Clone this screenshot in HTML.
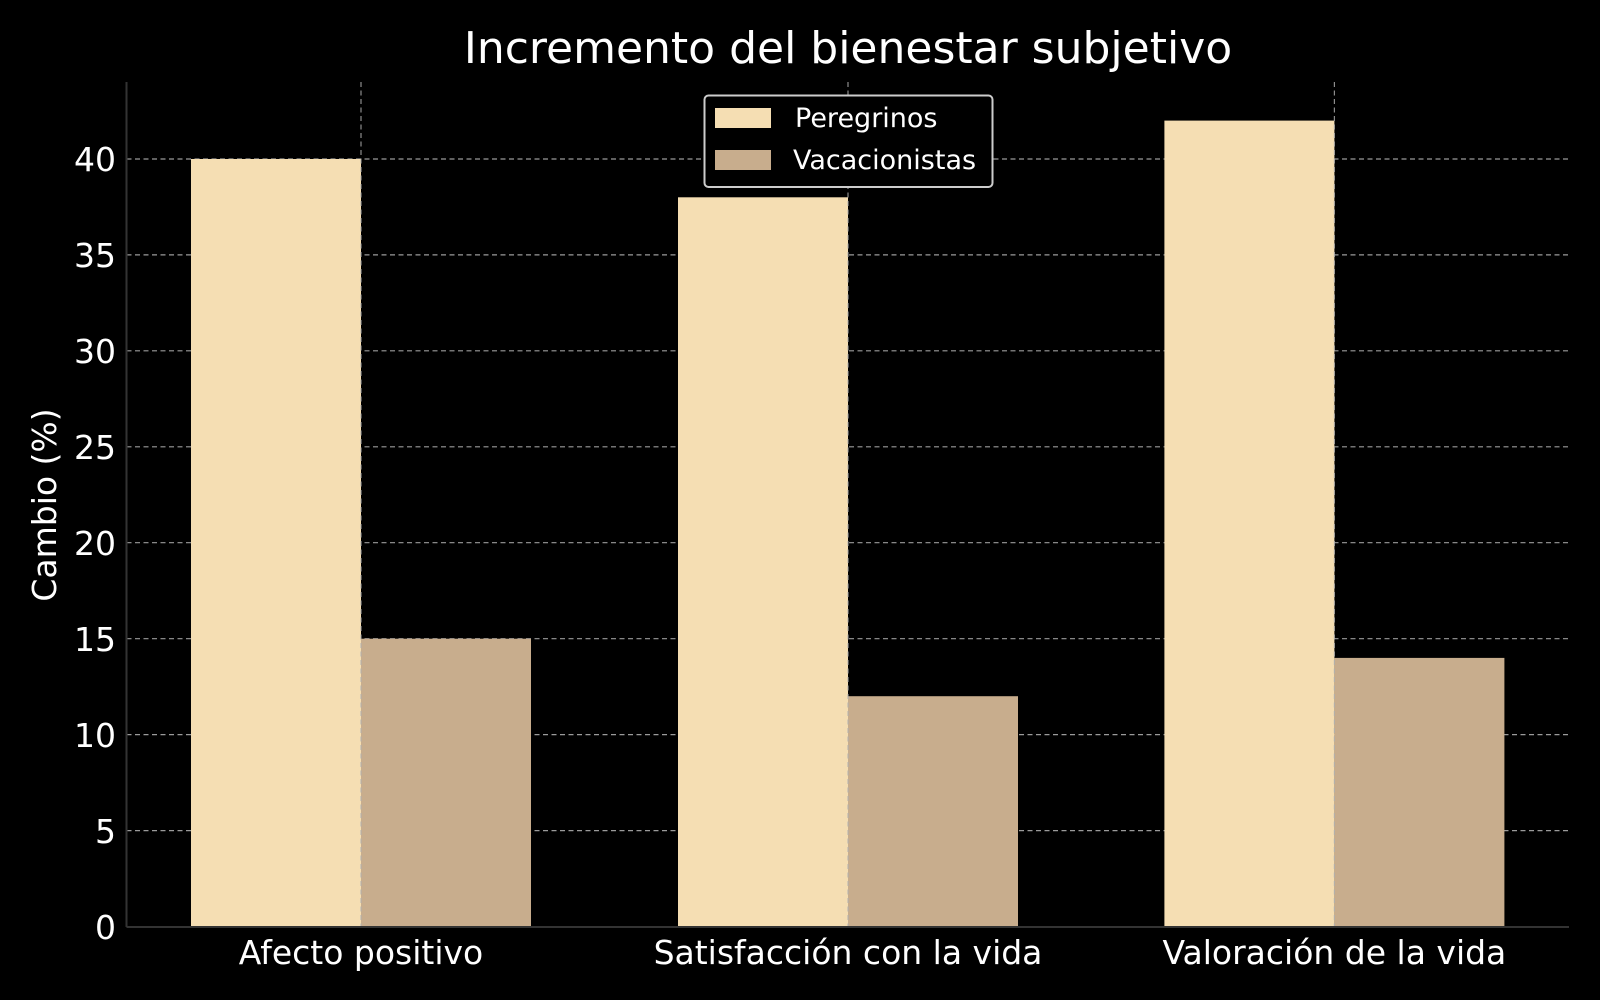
<!DOCTYPE html>
<html><head><meta charset="utf-8"><style>html,body{margin:0;padding:0;background:#000;}svg{display:block}</style></head>
<body>
<svg width="1600" height="1000" viewBox="0 0 1600 1000" xmlns="http://www.w3.org/2000/svg" font-family="'DejaVu Sans','Liberation Sans',sans-serif">
<rect width="1600" height="1000" fill="#000"/>
<g stroke="#9a9a9a" stroke-width="1.2" stroke-dasharray="5,3.5">
<line x1="126.5" x2="1569" y1="830.6" y2="830.6"/>
<line x1="126.5" x2="1569" y1="734.6" y2="734.6"/>
<line x1="126.5" x2="1569" y1="638.7" y2="638.7"/>
<line x1="126.5" x2="1569" y1="542.7" y2="542.7"/>
<line x1="126.5" x2="1569" y1="446.8" y2="446.8"/>
<line x1="126.5" x2="1569" y1="350.8" y2="350.8"/>
<line x1="126.5" x2="1569" y1="254.9" y2="254.9"/>
<line x1="126.5" x2="1569" y1="159" y2="159"/>
</g>
<g>
<rect x="191" y="159" width="170" height="767.5" fill="#f5deb3"/>
<rect x="361" y="638.7" width="170" height="287.8" fill="#c8ad8d"/>
<rect x="678" y="197.3" width="170" height="729.2" fill="#f5deb3"/>
<rect x="848" y="696.2" width="170" height="230.3" fill="#c8ad8d"/>
<rect x="1164.4" y="120.6" width="170" height="805.9" fill="#f5deb3"/>
<rect x="1334.4" y="657.9" width="170" height="268.6" fill="#c8ad8d"/>
</g>
<g stroke="#b0b0b0" stroke-width="1.2" stroke-dasharray="5,3.5" opacity="0.8">
<line x1="361" x2="361" y1="82" y2="926"/>
<line x1="848" x2="848" y1="82" y2="926"/>
<line x1="1334.4" x2="1334.4" y1="82" y2="926"/>
</g>
<line x1="126.5" x2="126.5" y1="82" y2="927" stroke="#333" stroke-width="2"/>
<line x1="126.5" x2="1569" y1="927" y2="927" stroke="#333" stroke-width="2"/>
<g fill="#fff" font-size="33" text-anchor="end">
<text x="116" y="939">0</text>
<text x="116" y="843">5</text>
<text x="116" y="747">10</text>
<text x="116" y="651">15</text>
<text x="116" y="555">20</text>
<text x="116" y="459">25</text>
<text x="116" y="363">30</text>
<text x="116" y="267">35</text>
<text x="116" y="171">40</text>
</g>
<g fill="#fff" font-size="33" text-anchor="middle">
<text x="361" y="964">Afecto positivo</text>
<text x="848" y="964">Satisfacción con la vida</text>
<text x="1334.4" y="964">Valoración de la vida</text>
</g>
<text x="56" y="505" fill="#fff" font-size="33" text-anchor="middle" transform="rotate(-90 56 505)">Cambio (%)</text>
<text x="848" y="63" fill="#fff" font-size="44" text-anchor="middle">Incremento del bienestar subjetivo</text>
<rect x="704.5" y="95.5" width="288" height="91.5" rx="4" fill="#000" stroke="#ccc" stroke-width="2"/>
<rect x="715" y="108" width="56" height="20" fill="#f5deb3"/>
<rect x="715" y="150" width="56" height="20" fill="#c8ad8d"/>
<g fill="#fff" font-size="27">
<text x="795" y="127">Peregrinos</text>
<text x="793" y="169">Vacacionistas</text>
</g>
</svg>
</body></html>
